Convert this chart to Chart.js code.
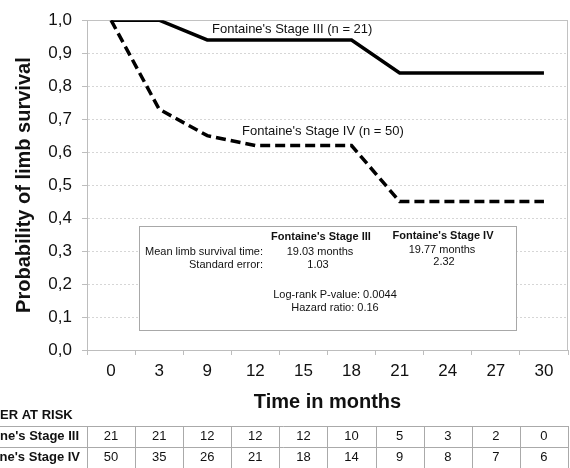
<!DOCTYPE html>
<html><head><meta charset="utf-8">
<script src="https://cdn.jsdelivr.net/npm/chart.js@4.4.1/dist/chart.umd.min.js"></script>
<style>html,body{margin:0;padding:0;background:#fff;overflow:hidden}#wrap{width:570px;height:468px;position:relative}</style>
</head><body><div id="wrap"><canvas id="c" width="570" height="468"></canvas></div>
<script>
// ---- data ----
const months = ['0','3','9','12','15','18','21','24','27','30'];
const stageIII = [1.00,1.00,0.94,0.94,0.94,0.94,0.84,0.84,0.84,0.84];
const stageIV  = [1.00,0.73,0.65,0.62,0.62,0.62,0.45,0.45,0.45,0.45];
const atRiskIII = [21,21,12,12,12,10,5,3,2,0];
const atRiskIV  = [50,35,26,21,18,14,9,8,7,6];
const seriesNames = ["Fontaine's Stage III", "Fontaine's Stage IV"];
const seriesN = [21, 50];
const meanSurvival = ['19.03 months', '19.77 months'];
const stdError = ['1.03', '2.32'];
const logRankP = '0.0044';
const hazardRatio = '0.16';

const FONT = '"Liberation Sans", Arial, sans-serif';
const TXT = '#111';
const GRID = '#bdbdbd';

const overlay = {
  id: 'overlay',
  beforeDatasetsDraw(chart) {
    const {ctx, chartArea: a} = chart;
    ctx.save();
    ctx.strokeStyle = '#c2c2c2'; ctx.lineWidth = 1;
    ctx.beginPath();
    ctx.moveTo(Math.round(a.left) + 0.5, Math.round(a.top) + 0.5);
    ctx.lineTo(Math.round(a.right) - 0.5, Math.round(a.top) + 0.5);
    ctx.lineTo(Math.round(a.right) - 0.5, Math.round(a.bottom) + 0.5);
    ctx.stroke();
    // statistics box
    ctx.fillStyle = '#fff';
    ctx.fillRect(139.5, 226.5, 377, 104);
    ctx.strokeStyle = '#a8a8a8';
    ctx.strokeRect(139.5, 226.5, 377, 104);
    ctx.restore();
  },
  afterDatasetsDraw(chart) {
    const {ctx} = chart;
    ctx.save();
    ctx.fillStyle = TXT;
    ctx.textBaseline = 'middle';
    // series labels
    ctx.font = '13px ' + FONT;
    ctx.textAlign = 'left';
    ctx.fillText(seriesNames[0] + ' (n = ' + seriesN[0] + ')', 212, 29);
    ctx.fillText(seriesNames[1] + ' (n = ' + seriesN[1] + ')', 242, 131);
    // box contents
    ctx.font = 'bold 11px ' + FONT;
    ctx.textAlign = 'center';
    ctx.fillText(seriesNames[0], 321, 237);
    ctx.fillText(seriesNames[1], 443, 236);
    ctx.font = '11px ' + FONT;
    ctx.textAlign = 'right';
    ctx.fillText('Mean limb survival time:', 263, 252);
    ctx.fillText('Standard error:', 263, 264.5);
    ctx.textAlign = 'center';
    ctx.fillText(meanSurvival[0], 320, 252);
    ctx.fillText(stdError[0], 318, 264.5);
    ctx.fillText(meanSurvival[1], 442, 250);
    ctx.fillText(stdError[1], 444, 262);
    ctx.fillText('Log-rank P-value: ' + logRankP, 335, 295);
    ctx.fillText('Hazard ratio: ' + hazardRatio, 335, 308);
    ctx.restore();
  },
  afterDraw(chart) {
    const {ctx, scales: {x}} = chart;
    ctx.save();
    const c0 = x.getPixelForValue(0), c1 = x.getPixelForValue(1);
    const half = (c1 - c0) / 2;
    const left = Math.round(c0 - half);
    const right = Math.round(x.getPixelForValue(months.length - 1) + half);
    const rows = [426, 447, 468];
    ctx.strokeStyle = '#aaaaaa'; ctx.lineWidth = 1;
    ctx.beginPath();
    rows.forEach(r => { ctx.moveTo(-5, r + 0.5); ctx.lineTo(right + 0.5, r + 0.5); });
    for (let i = 0; i <= months.length; i++) {
      const bx = Math.round(c0 - half + i * 2 * half) + 0.5;
      ctx.moveTo(bx, rows[0]); ctx.lineTo(bx, 470);
    }
    ctx.moveTo(right + 0.5, rows[0]); ctx.lineTo(right + 0.5, 470);
    ctx.stroke();
    ctx.fillStyle = TXT;
    ctx.textBaseline = 'middle';
    ctx.font = 'bold 13px ' + FONT;
    ctx.textAlign = 'left';
    ctx.fillText('NUMBER AT RISK', -39, 415);
    ctx.textAlign = 'right';
    ctx.fillText(seriesNames[0], left - 8, 436.5);
    ctx.fillText(seriesNames[1], left - 7, 457.5);
    ctx.font = '13px ' + FONT;
    ctx.textAlign = 'center';
    months.forEach((m, i) => {
      const cx = x.getPixelForValue(i);
      ctx.fillText(String(atRiskIII[i]), cx, 436.5);
      ctx.fillText(String(atRiskIV[i]), cx, 457.5);
    });
    ctx.restore();
  }
};

const isTop = (ctx) => ctx.tick && Math.abs(ctx.tick.value - 1) < 1e-6;

new Chart(document.getElementById('c'), {
  type: 'line',
  data: {
    labels: months,
    datasets: [
      {label: seriesNames[0], data: stageIII, borderColor: '#000', borderWidth: 3.5,
       pointRadius: 0, fill: false, tension: 0, borderCapStyle: 'butt', borderJoinStyle: 'miter'},
      {label: seriesNames[1], data: stageIV, borderColor: '#000', borderWidth: 3.5, borderDash: [10, 5],
       pointRadius: 0, fill: false, tension: 0, borderCapStyle: 'butt', borderJoinStyle: 'miter'}
    ]
  },
  options: {
    responsive: false,
    animation: false,
    layout: {padding: {top: 20, right: 2, left: 0, bottom: 0}},
    plugins: {legend: {display: false}, tooltip: {enabled: false}},
    scales: {
      x: {
        type: 'category',
        offset: true,
        grid: {display: true, offset: true, drawOnChartArea: false, drawTicks: true, tickLength: 5, color: GRID},
        border: {display: true, color: GRID},
        ticks: {color: TXT, font: {family: FONT, size: 17}, padding: 6, maxRotation: 0, autoSkip: false},
        title: {display: true, text: 'Time in months', color: TXT,
                font: {family: FONT, size: 20, weight: 'bold'}, padding: {top: 0, bottom: 54}},
        afterFit(s) { s.height = 118; }
      },
      y: {
        min: 0, max: 1,
        grid: {color: (c) => isTop(c) ? '#c2c2c2' : '#d6d6d6', tickColor: GRID, tickLength: 5, lineWidth: 1},
        border: {display: true, color: GRID, dash: (c) => isTop(c) ? [] : [2, 2]},
        ticks: {stepSize: 0.1, color: TXT, font: {family: FONT, size: 17}, padding: 10,
                callback: (v) => Number(v).toFixed(1).replace('.', ',')},
        title: {display: true, text: 'Probability of limb survival', color: TXT,
                font: {family: FONT, size: 20, weight: 'bold'}, padding: {top: 12, bottom: 0}},
        afterFit(s) { s.width = 87; }
      }
    }
  },
  plugins: [overlay]
});
</script>
</body></html>
